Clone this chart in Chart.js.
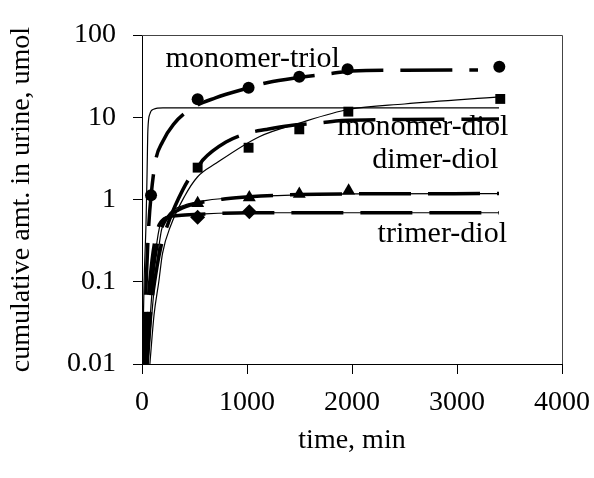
<!DOCTYPE html>
<html><head><meta charset="utf-8">
<script src="https://cdn.jsdelivr.net/npm/chart.js@4/dist/chart.umd.min.js"></script>
<style>html,body{margin:0;padding:0;background:#fff}canvas{display:block}</style>
</head><body>
<canvas id="c" width="594" height="478"></canvas>
<script>
// ---- data ----
const xTicks = [0, 1000, 2000, 3000, 4000];
const yTicks = [0.01, 0.1, 1, 10, 100];
const yTickLabels = ['0.01', '0.1', '1', '10', '100'];

// measured amounts (markers)
const triolT = [86, 530, 1015, 1498, 1958, 3403];
const triolV = [1.13, 16.5, 22.9, 31.1, 38.3, 41.2];
const diolT = [530, 1015, 1498, 1965, 3412];
const diolV = [2.44, 4.26, 7.13, 11.7, 16.7];
const dimerT = [530, 1022, 1498, 1968];
const dimerV = [0.90, 1.06, 1.17, 1.28];
const trimerT = [530, 1022];
const trimerV = [0.61, 0.71];

// thick dashed model curves
const triolDashT = [15, 40, 65, 86, 130, 195, 300, 480, 700, 1000, 1200, 1500, 1800, 2000, 2500, 3200];
const triolDashV = [0.01, 0.1, 0.5, 1.1, 3.0, 5.0, 8.2, 13, 17.2, 22.5, 26.5, 30.5, 34, 36.5, 37.3, 37.6];
const diolDashT = [45, 80, 120, 175, 260, 387, 482, 530, 577, 800, 1006, 1181, 1400, 1689, 1900, 2500, 3400];
const diolDashV = [0.01, 0.04, 0.1, 0.25, 0.56, 1.3, 2.08, 2.44, 3.0, 5.0, 6.4, 7.1, 7.9, 8.5, 9.1, 9.4, 9.5];
const dimerDashT = [35, 70, 110, 160, 220, 350, 530, 800, 1022, 1500, 2000, 3400];
const dimerDashV = [0.01, 0.05, 0.15, 0.35, 0.55, 0.75, 0.9, 1.02, 1.08, 1.15, 1.17, 1.18];
const trimerDashT = [25, 55, 95, 140, 210, 350, 530, 1022, 3400];
const trimerDashV = [0.01, 0.05, 0.18, 0.4, 0.58, 0.64, 0.66, 0.69, 0.69];

// thin solid model curves
const triolThinT = [5, 20, 38, 48, 56, 75, 110, 200, 3400];
const triolThinV = [0.01, 0.1, 0.5, 2, 7, 11, 12.5, 13, 13];
const diolThinT = [75, 115, 160, 195, 276, 403, 530, 705, 1117, 1500, 1974, 2500, 3403];
const diolThinV = [0.01, 0.04, 0.1, 0.22, 0.49, 1.08, 1.89, 2.75, 5.8, 8.5, 12.5, 14.5, 17.7];
const dimerThinT = [60, 100, 140, 185, 250, 400, 600, 1000, 1500, 2000, 3400];
const dimerThinV = [0.01, 0.05, 0.16, 0.42, 0.65, 0.85, 0.97, 1.08, 1.14, 1.17, 1.18];
const trimerThinT = [50, 85, 125, 165, 200, 300, 600, 1022, 3400];
const trimerThinV = [0.01, 0.05, 0.2, 0.45, 0.58, 0.64, 0.67, 0.69, 0.69];

// in-plot labels: text, anchor time (centre), anchor value (baseline)
const labelTexts = ['monomer-triol', 'monomer-diol', 'dimer-diol', 'trimer-diol'];
const labelT = [1055, 2674, 2793, 2860];
const labelV = [41.2, 6.08, 2.39, 0.307];

const xTitle = 'time, min';
const yTitle = 'cumulative amt. in urine, umol';

// ---- build chart ----
const pts = (t, v) => t.map((x, i) => ({x, y: v[i]}));
const FONT = 'Liberation Serif, Times New Roman, serif';
const dash = [52, 17];
function markers(t, v, style, r) {
  return {data: pts(t, v), showLine: false, pointStyle: style, pointRadius: r,
    backgroundColor: '#000', borderColor: '#000', borderWidth: 0, order: 0};
}
function dashed(t, v) {
  return {data: pts(t, v), showLine: true, pointRadius: 0, borderColor: '#000',
    borderWidth: 3.5, borderDash: dash, cubicInterpolationMode: 'monotone', order: 1};
}
function thin(t, v) {
  return {data: pts(t, v), showLine: true, pointRadius: 0, borderColor: '#000',
    borderWidth: 1.2, cubicInterpolationMode: 'monotone', order: 2};
}

const frame = {
  id: 'frame',
  afterDatasetsDraw(chart) {
    const {ctx, chartArea: a} = chart;
    ctx.save();
    ctx.strokeStyle = '#444';
    ctx.lineWidth = 1;
    ctx.beginPath();
    ctx.moveTo(a.left, a.top + 0.5);
    ctx.lineTo(a.right + 0.5, a.top + 0.5);
    ctx.lineTo(a.right + 0.5, a.bottom);
    ctx.stroke();
    ctx.restore();
  },
  afterDraw(chart) {
    const {ctx, scales: {x, y}} = chart;
    ctx.save();
    ctx.fillStyle = '#000';
    ctx.font = '30px ' + FONT;
    ctx.textAlign = 'center';
    ctx.textBaseline = 'alphabetic';
    labelTexts.forEach((s, i) => {
      ctx.fillText(s, x.getPixelForValue(labelT[i]), y.getPixelForValue(labelV[i]));
    });
    ctx.restore();
  }
};

new Chart(document.getElementById('c'), {
  type: 'scatter',
  data: {datasets: [
    markers(triolT, triolV, 'circle', 6),
    markers(diolT, diolV, 'rect', 7),
    markers(dimerT, dimerV, 'triangle', 7.5),
    markers(trimerT, trimerV, 'rectRot', 7.5),
    dashed(triolDashT, triolDashV),
    dashed(diolDashT, diolDashV),
    dashed(dimerDashT, dimerDashV),
    dashed(trimerDashT, trimerDashV),
    thin(triolThinT, triolThinV),
    thin(diolThinT, diolThinV),
    thin(dimerThinT, dimerThinV),
    thin(trimerThinT, trimerThinV)
  ]},
  options: {
    responsive: false, animation: false, devicePixelRatio: 1,
    layout: {padding: {left: 0, right: 32, top: 35, bottom: 0}},
    plugins: {legend: {display: false}, tooltip: {enabled: false}},
    scales: {
      x: {
        type: 'linear', min: xTicks[0], max: xTicks[xTicks.length - 1],
        afterBuildTicks(s) { s.ticks = xTicks.map(v => ({value: v})); },
        ticks: {color: '#000', font: {family: FONT, size: 28}, padding: 12, maxRotation: 0,
          callback: v => String(v)},
        grid: {drawOnChartArea: false, drawTicks: true, tickLength: 10, color: '#000', lineWidth: 1},
        border: {color: '#000', width: 1},
        title: {display: true, text: xTitle, color: '#000', font: {family: FONT, size: 28},
          padding: {top: 0, bottom: 21}},
        afterFit(s) { s.height = 114; s.paddingLeft = 0; s.paddingRight = 0; }
      },
      y: {
        type: 'logarithmic', min: yTicks[0], max: yTicks[yTicks.length - 1],
        afterBuildTicks(s) { s.ticks = yTicks.map(v => ({value: v})); },
        ticks: {color: '#000', font: {family: FONT, size: 28}, padding: 17,
          callback: (v) => { const i = yTicks.findIndex(t => Math.abs(t - v) / t < 1e-6); return i >= 0 ? yTickLabels[i] : ''; }},
        grid: {drawOnChartArea: false, drawTicks: true, tickLength: 9, color: '#000', lineWidth: 1},
        border: {color: '#000', width: 1},
        title: {display: true, text: yTitle, color: '#000', font: {family: FONT, size: 28},
          padding: {top: 5, bottom: 0}},
        afterFit(s) { s.width = 142; s.paddingTop = 0; s.paddingBottom = 0; }
      }
    }
  },
  plugins: [frame]
});
</script>
</body></html>
